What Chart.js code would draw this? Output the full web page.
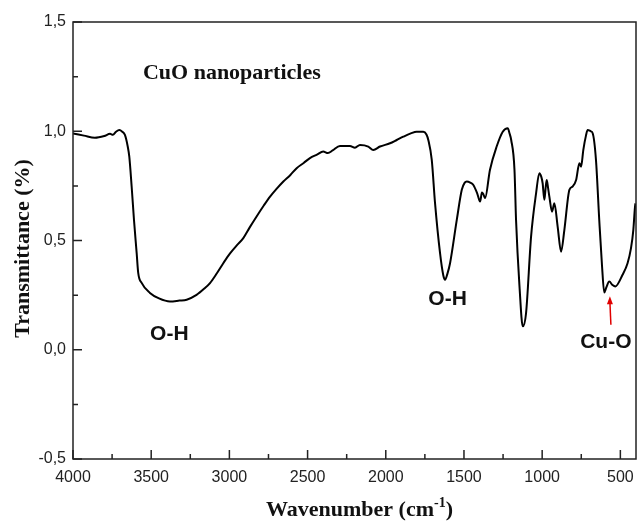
<!DOCTYPE html>
<html>
<head>
<meta charset="utf-8">
<script src="https://cdn.jsdelivr.net/npm/chart.js@4/dist/chart.umd.min.js"></script>
<style>
  body { margin: 0; background: #fff; }
  #chart { display: block; }
</style>
</head>
<body>
<canvas id="chart" width="638" height="524"></canvas>
<script>
// FTIR spectrum (wavenumber in cm-1, transmittance)
var wavenumber = [4000, 3930, 3860, 3800, 3763, 3745, 3725, 3704, 3685, 3668, 3650, 3640, 3625, 3610, 3593, 3583, 3561,
    3508, 3450, 3380, 3320, 3273, 3210, 3160, 3124, 3080, 3039, 2997, 2950, 2911, 2870, 2826, 2780, 2740, 2700, 2655,
    2610, 2570, 2525, 2485, 2440, 2400, 2370, 2340, 2293, 2229, 2197, 2165, 2112, 2080, 2037, 1973, 1930, 1888, 1840,
    1803, 1760, 1740, 1728, 1706, 1685, 1653, 1632, 1621, 1607, 1589, 1546, 1514, 1495, 1482, 1460, 1440, 1415, 1397,
    1385, 1375, 1365, 1334, 1291, 1252, 1220, 1209, 1198, 1177, 1167, 1145, 1124, 1103, 1071, 1039, 1018, 1005, 997,
    986, 978, 971, 962, 954, 937, 922, 901, 879, 858, 826, 805, 783, 762, 751, 737, 720, 709, 690, 677, 656, 635, 617,
    603, 590, 571, 550, 532, 486, 454, 432, 417, 408, 404];
var transmittance = [0.99, 0.98, 0.97, 0.978, 0.988, 0.984, 0.998, 1.006, 0.998, 0.983, 0.93, 0.884, 0.747, 0.594, 0.443,
    0.352, 0.306, 0.26, 0.235, 0.221, 0.225, 0.229, 0.251, 0.28, 0.305, 0.35, 0.396, 0.44, 0.48, 0.511, 0.56, 0.61, 0.66,
    0.701, 0.735, 0.77, 0.8, 0.831, 0.855, 0.877, 0.893, 0.907, 0.9, 0.912, 0.933, 0.933, 0.925, 0.937, 0.93, 0.914, 0.93,
    0.945, 0.96, 0.975, 0.99, 0.998, 0.998, 0.985, 0.96, 0.869, 0.671, 0.442, 0.34, 0.32, 0.345, 0.396, 0.594, 0.732,
    0.765, 0.77, 0.765, 0.754, 0.715, 0.678, 0.72, 0.71, 0.694, 0.823, 0.93, 0.998, 1.014, 0.991, 0.96, 0.823, 0.594,
    0.29, 0.107, 0.168, 0.518, 0.716, 0.808, 0.79, 0.762, 0.686, 0.74, 0.777, 0.74, 0.701, 0.632, 0.671, 0.564, 0.449,
    0.549, 0.732, 0.747, 0.777, 0.854, 0.838, 0.914, 0.98, 1.006, 1.0, 0.991, 0.869, 0.594, 0.381, 0.262, 0.285, 0.312,
    0.296, 0.29, 0.343, 0.396, 0.465, 0.549, 0.64, 0.67];

var xTickValues  = [4000, 3500, 3000, 2500, 2000, 1500, 1000, 500];
var xMinorValues = [3750, 3250, 2750, 2250, 1750, 1250, 750];
var yTickValues  = [-0.5, 0, 0.5, 1.0, 1.5];
var yTickLabels  = ['-0,5', '0,0', '0,5', '1,0', '1,5'];
var yMinorValues = [-0.25, 0.25, 0.75, 1.25];

// band labels, placed in data units
var bandLabels = [
    {text: 'O-H',  x: 3384, y: 0.046},
    {text: 'O-H',  x: 1605, y: 0.206},
    {text: 'Cu-O', x: 593,  y: 0.009}
];
var sampleName = {text: 'CuO nanoparticles', x: 3553, y: 1.239};
var arrow = {x: 567, from: 0.114, to: 0.245};

var points = wavenumber.map(function(w, i) {
    return {x: w, y: transmittance[i]};
});

var frame = {
    id: 'frame',
    afterDraw: function(chart) {
        var ctx = chart.ctx;
        var a = chart.chartArea;
        var xs = chart.scales.x, ys = chart.scales.y;

        ctx.save();
        ctx.strokeStyle = '#222';
        ctx.lineWidth = 1.5;
        ctx.strokeRect(a.left, a.top, a.right - a.left, a.bottom - a.top);

        // inward ticks
        ctx.beginPath();
        xTickValues.forEach(function(v) {
            var px = xs.getPixelForValue(v);
            ctx.moveTo(px, a.bottom); ctx.lineTo(px, a.bottom - 9);
        });
        xMinorValues.forEach(function(v) {
            var px = xs.getPixelForValue(v);
            ctx.moveTo(px, a.bottom); ctx.lineTo(px, a.bottom - 5);
        });
        yTickValues.forEach(function(v) {
            var py = ys.getPixelForValue(v);
            ctx.moveTo(a.left, py); ctx.lineTo(a.left + 9, py);
        });
        yMinorValues.forEach(function(v) {
            var py = ys.getPixelForValue(v);
            ctx.moveTo(a.left, py); ctx.lineTo(a.left + 5, py);
        });
        ctx.stroke();

        // band labels
        ctx.fillStyle = '#111';
        ctx.font = 'bold 21px "Liberation Sans", Arial, sans-serif';
        ctx.textAlign = 'center';
        ctx.textBaseline = 'alphabetic';
        bandLabels.forEach(function(l) {
            ctx.fillText(l.text, xs.getPixelForValue(l.x), ys.getPixelForValue(l.y));
        });

        ctx.font = 'bold 22px "Liberation Serif", "Times New Roman", serif';
        ctx.textAlign = 'left';
        ctx.fillText(sampleName.text, xs.getPixelForValue(sampleName.x), ys.getPixelForValue(sampleName.y));

        // red arrow to the Cu-O band
        var ax = xs.getPixelForValue(arrow.x);
        var y0 = ys.getPixelForValue(arrow.from), y1 = ys.getPixelForValue(arrow.to);
        ctx.strokeStyle = '#e00000';
        ctx.fillStyle = '#e00000';
        ctx.lineWidth = 1.5;
        ctx.beginPath();
        ctx.moveTo(ax + 1, y0); ctx.lineTo(ax, y1 + 5);
        ctx.stroke();
        ctx.beginPath();
        ctx.moveTo(ax, y1); ctx.lineTo(ax - 3, y1 + 8); ctx.lineTo(ax + 3, y1 + 8);
        ctx.closePath();
        ctx.fill();

        // axis titles
        ctx.fillStyle = '#111';
        var main = 'Wavenumber (cm', sup = '-1', tail = ')';
        ctx.font = 'bold 22px "Liberation Serif", serif';
        var w1 = ctx.measureText(main).width, w3 = ctx.measureText(tail).width;
        ctx.font = 'bold 14px "Liberation Serif", serif';
        var w2 = ctx.measureText(sup).width;
        var total = w1 + w2 + w3;
        var cx = (a.left + a.right) / 2 + 5;
        var sx = cx - total / 2;
        var base = a.bottom + 57;
        ctx.textAlign = 'left';
        ctx.font = 'bold 22px "Liberation Serif", serif';
        ctx.fillText(main, sx, base);
        ctx.font = 'bold 14px "Liberation Serif", serif';
        ctx.fillText(sup, sx + w1, base - 9);
        ctx.font = 'bold 22px "Liberation Serif", serif';
        ctx.fillText(tail, sx + w1 + w2, base);

        ctx.translate(23, (a.top + a.bottom) / 2 + 8);
        ctx.rotate(-Math.PI / 2);
        ctx.textAlign = 'center';
        ctx.textBaseline = 'middle';
        ctx.fillText('Transmittance (%)', 0, 0);
        ctx.restore();
    }
};

new Chart(document.getElementById('chart'), {
    type: 'line',
    data: {
        datasets: [{
            data: points,
            borderColor: '#000',
            borderWidth: 2,
            pointRadius: 0,
            fill: false,
            cubicInterpolationMode: 'monotone'
        }]
    },
    options: {
        responsive: false,
        animation: false,
        events: [],
        layout: {padding: {top: 22, right: 2, left: 0, bottom: 0}},
        plugins: {legend: {display: false}, tooltip: {enabled: false}},
        scales: {
            x: {
                type: 'linear',
                reverse: true,
                min: 400,
                max: 4000,
                grid: {display: false, drawTicks: false},
                border: {display: false},
                afterBuildTicks: function(scale) {
                    scale.ticks = xTickValues.map(function(v) { return {value: v}; });
                },
                afterFit: function(scale) {
                    scale.height = 65;
                    scale.paddingLeft = 0;
                    scale.paddingRight = 0;
                },
                ticks: {
                    autoSkip: false,
                    maxRotation: 0,
                    padding: 9,
                    color: '#222',
                    font: {family: '"Liberation Sans", Arial, sans-serif', size: 16},
                    callback: function(v) { return String(v); }
                }
            },
            y: {
                min: -0.5,
                max: 1.5,
                grid: {display: false, drawTicks: false},
                border: {display: false},
                afterBuildTicks: function(scale) {
                    scale.ticks = yTickValues.map(function(v) { return {value: v}; });
                },
                afterFit: function(scale) {
                    scale.width = 73;
                    scale.paddingTop = 0;
                    scale.paddingBottom = 0;
                },
                ticks: {
                    padding: 7,
                    color: '#222',
                    font: {family: '"Liberation Sans", Arial, sans-serif', size: 16},
                    callback: function(v) {
                        var i = yTickValues.indexOf(v);
                        return i >= 0 ? yTickLabels[i] : '';
                    }
                }
            }
        }
    },
    plugins: [frame]
});
</script>
</body>
</html>
